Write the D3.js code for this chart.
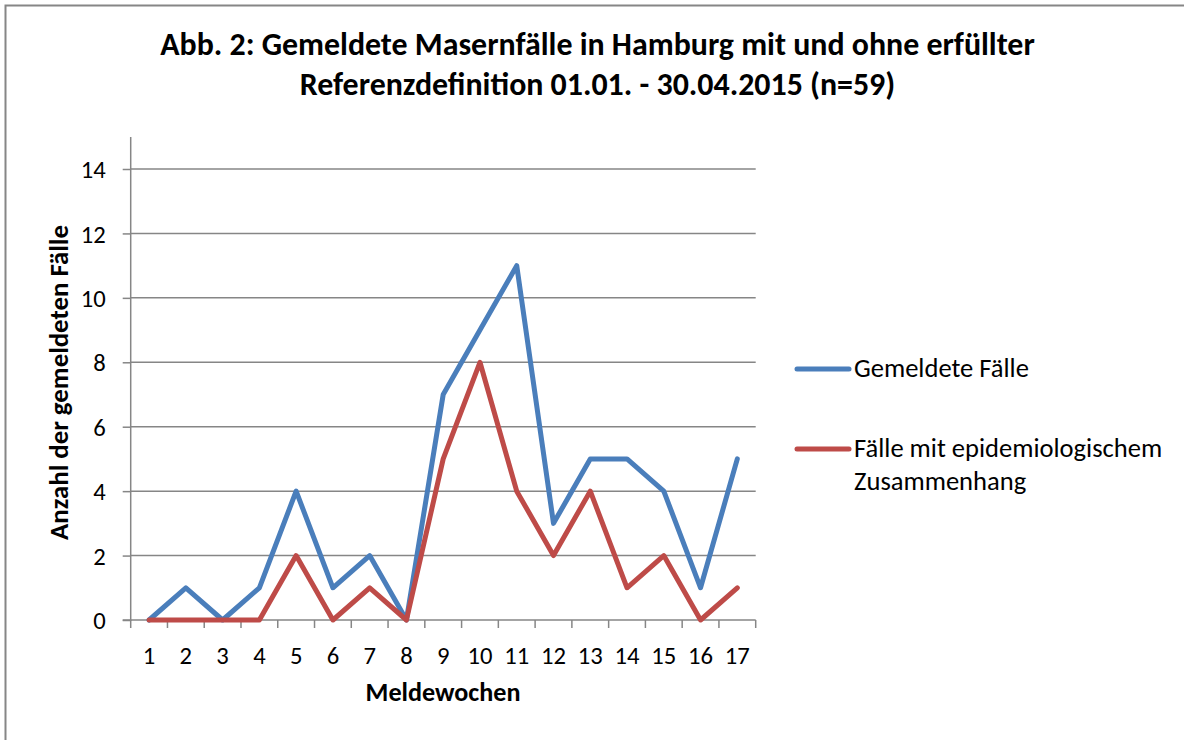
<!DOCTYPE html>
<html><head><meta charset="utf-8">
<script src="https://cdn.jsdelivr.net/npm/d3@7"></script>
<style>
html,body{margin:0;padding:0;background:#fff;}
svg text{font-family:Carlito,Calibri,Lato,"Open Sans",sans-serif;fill:#000;}
</style></head>
<body>
<svg id="chart" width="1184" height="740"></svg>
<script>
const weeks = ["1","2","3","4","5","6","7","8","9","10","11","12","13","14","15","16","17"];
const gemeldeteFaelle = [0,1,0,1,4,1,2,0,7,9,11,3,5,5,4,1,5];
const epidemFaelle = [0,0,0,0,2,0,1,0,5,8,4,2,4,1,2,0,1];
const yTicks = [0,2,4,6,8,10,12,14];
const seriesNames = ["Gemeldete Fälle", "Fälle mit epidemiologischem Zusammenhang"];
const titleLines = ["Abb. 2: Gemeldete Masernfälle in Hamburg mit und ohne erfüllter",
                    "Referenzdefinition 01.01. - 30.04.2015 (n=59)"];
const yTitle = "Anzahl der gemeldeten Fälle";
const xTitle = "Meldewochen";

(function(){
const svg = d3.select("#chart");
const gray = "#868686";
const colors = ["#4A7EBB", "#BE4B48"];

// outer border
svg.append("rect").attr("x",5.5).attr("y",5.5).attr("width",1190).attr("height",750)
  .attr("fill","#fff").attr("stroke",gray).attr("stroke-width",2);

const pLeft = 130.7, pRight = 755.7, pTop = 137, y0px = 620, y14px = 169;
const x = d3.scaleBand().domain(weeks).range([pLeft, pRight]);
const y = d3.scaleLinear().domain([0,14]).range([y0px, y14px]);

function fit(sel, target){
  const w = sel.node().getComputedTextLength();
  const fs = parseFloat(sel.attr("font-size"));
  sel.attr("font-size", fs*target/w);
}

// tick label size: fit "14" to ~25px wide, as in the reference
const probe = svg.append("text").attr("font-size",20).text("14");
fit(probe, 25);
const fsTick = probe.attr("font-size");
probe.remove();

// title
const t1 = svg.append("text").attr("x",597.5).attr("y",55).attr("text-anchor","middle")
  .attr("font-weight","bold").attr("font-size",28).text(titleLines[0]);
fit(t1, 875);
svg.append("text").attr("x",597.5).attr("y",95).attr("text-anchor","middle")
  .attr("font-weight","bold").attr("font-size",t1.attr("font-size")).text(titleLines[1]);

// gridlines
svg.append("g").selectAll("line").data(yTicks.filter(d=>d>0)).join("line")
  .attr("x1",pLeft).attr("x2",pRight).attr("y1",d=>y(d)).attr("y2",d=>y(d))
  .attr("stroke",gray).attr("stroke-width",1.5);

// y axis
const yAxis = svg.append("g").attr("transform",`translate(${pLeft},0)`)
  .call(d3.axisLeft(y).tickValues(yTicks).tickSize(8).tickPadding(17).tickFormat(d3.format("d")));
yAxis.attr("font-size",null).attr("font-family",null);
yAxis.select(".domain").remove();
yAxis.selectAll(".tick line").attr("stroke",gray).attr("stroke-width",1.5);
yAxis.selectAll(".tick text").attr("font-size",fsTick).attr("dy","0.35em");
svg.append("line").attr("x1",pLeft).attr("x2",pLeft).attr("y1",pTop).attr("y2",y0px+1)
  .attr("stroke",gray).attr("stroke-width",1.5);

// x axis
svg.append("line").attr("x1",pLeft-8).attr("x2",pRight).attr("y1",y0px).attr("y2",y0px)
  .attr("stroke",gray).attr("stroke-width",1.5);
const bounds = weeks.map(w=>x(w)).concat([pRight]);
svg.append("g").selectAll("line").data(bounds).join("line")
  .attr("x1",d=>d).attr("x2",d=>d).attr("y1",y0px).attr("y2",y0px+8)
  .attr("stroke",gray).attr("stroke-width",1.5);
svg.append("g").selectAll("text").data(weeks).join("text")
  .attr("x",d=>x(d)+x.bandwidth()/2).attr("y",664).attr("text-anchor","middle")
  .attr("font-size",fsTick).text(d=>d);

// axis titles
const yt = svg.append("text").attr("transform","translate(68,382.5) rotate(-90)")
  .attr("text-anchor","middle").attr("font-weight","bold").attr("font-size",20).text(yTitle);
fit(yt, 315);
const xt = svg.append("text").attr("x",443).attr("y",701).attr("text-anchor","middle")
  .attr("font-weight","bold").attr("font-size",20).text(xTitle);
fit(xt, 155);

// lines
const line = d3.line().x((d,i)=>x(weeks[i])+x.bandwidth()/2).y(d=>y(d));
[gemeldeteFaelle, epidemFaelle].forEach((s,i)=>{
  svg.append("path").datum(s).attr("d",line).attr("fill","none")
    .attr("stroke",colors[i]).attr("stroke-width",5).attr("stroke-linejoin","round").attr("stroke-linecap","round");
});

// legend
const lg1 = svg.append("g");
lg1.append("line").attr("x1",797).attr("x2",849).attr("y1",369).attr("y2",369)
  .attr("stroke",colors[0]).attr("stroke-width",5).attr("stroke-linecap","round");
const l1 = lg1.append("text").attr("x",854).attr("y",376.5).attr("font-size",22).text(seriesNames[0]);
fit(l1, 175);
const fsL = l1.attr("font-size");
const lg2 = svg.append("g");
lg2.append("line").attr("x1",797).attr("x2",849).attr("y1",449).attr("y2",449)
  .attr("stroke",colors[1]).attr("stroke-width",5).attr("stroke-linecap","round");
const words = seriesNames[1].split(" ");
lg2.append("text").attr("x",854).attr("y",456.5).attr("font-size",fsL).text(words.slice(0,3).join(" "));
lg2.append("text").attr("x",854).attr("y",490).attr("font-size",fsL).text(words.slice(3).join(" "));
})();
</script>
</body></html>
